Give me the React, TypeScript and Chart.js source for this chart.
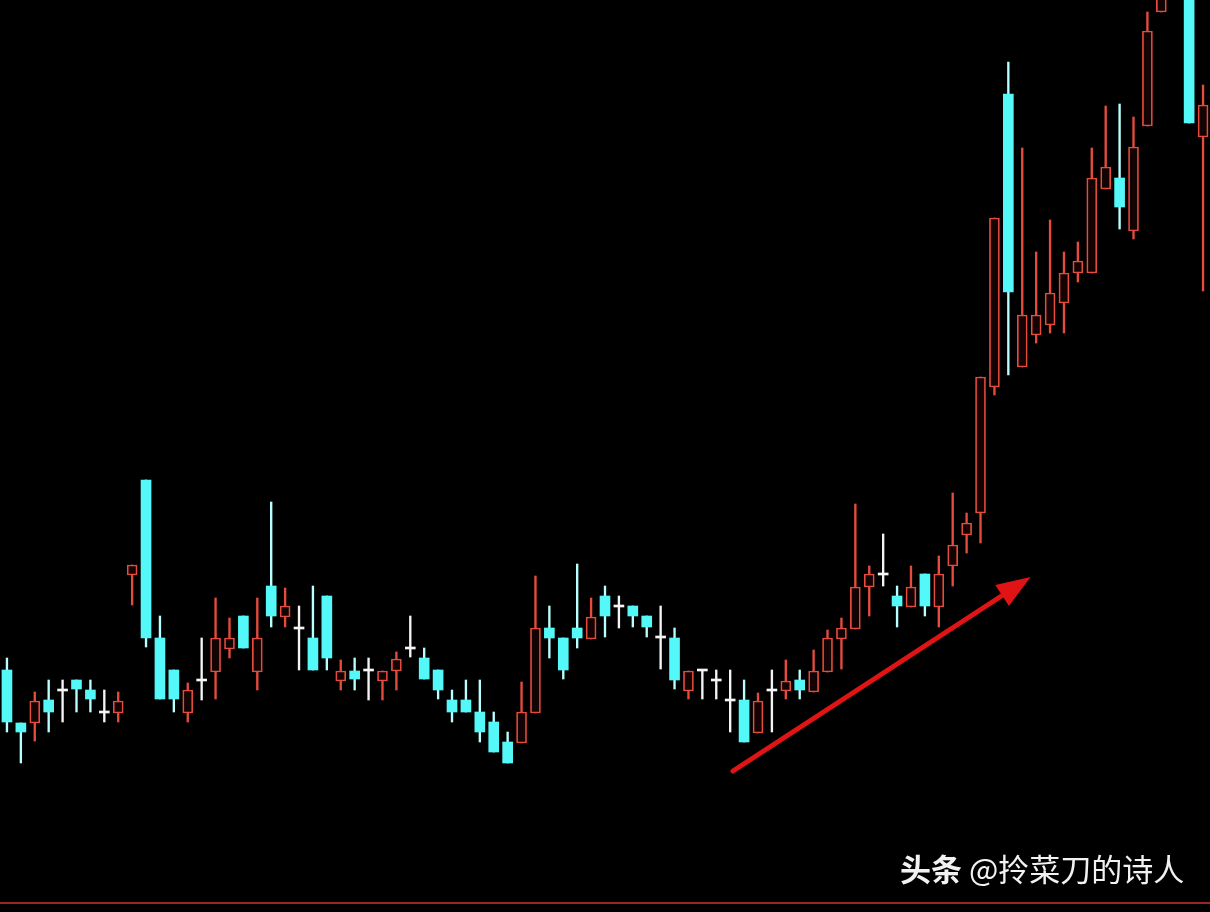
import React, { useEffect, useRef } from "react";
import { Chart, registerables } from "chart.js";

Chart.register(...registerables);

// Daily candles (price units)
const openPrices = [
  242, 189, 189, 212, 221, 232, 222, 199, 199, 337,
  432, 274, 242, 199, 231, 240, 263, 296, 240, 326,
  295, 283, 274, 316, 231, 241, 241, 231, 241, 263,
  254, 242, 212, 212, 200, 190, 170, 169, 199, 284,
  274, 284, 273, 316, 305, 306, 296, 274, 274, 221,
  241, 231, 211, 212, 179, 221, 221, 232, 220, 240,
  273, 283, 325, 337, 316, 305, 338, 305, 346, 377,
  399, 525, 818, 545, 577, 587, 609, 639, 639, 723,
  734, 681, 786, 900, 940, 975, 775,
];
const closePrices = [
  190, 180, 211, 200, 221, 223, 213, 199, 211, 347,
  274, 213, 213, 222, 231, 274, 274, 264, 274, 296,
  306, 283, 242, 254, 241, 233, 241, 241, 253, 263,
  233, 222, 200, 200, 180, 160, 149, 200, 284, 274,
  242, 274, 295, 296, 305, 296, 285, 274, 232, 241,
  241, 231, 211, 170, 211, 221, 231, 222, 241, 274,
  284, 325, 338, 337, 306, 325, 306, 338, 367, 389,
  535, 694, 620, 597, 597, 619, 639, 651, 734, 745,
  705, 765, 881, 932, 985, 789, 807,
];
const highPrices = [
  254, 189, 220, 232, 232, 232, 232, 222, 220, 347,
  432, 296, 242, 229, 274, 314, 294, 296, 314, 410,
  324, 306, 326, 316, 252, 254, 254, 241, 260, 296,
  264, 242, 222, 232, 232, 200, 180, 230, 336, 306,
  274, 348, 314, 326, 316, 306, 296, 306, 284, 241,
  241, 242, 242, 232, 219, 242, 252, 242, 262, 282,
  294, 408, 346, 378, 326, 346, 338, 356, 419, 399,
  535, 694, 850, 764, 660, 692, 660, 670, 764, 806,
  808, 795, 900, 950, 1000, 990, 827,
];
const lowPrices = [
  180, 149, 171, 180, 190, 200, 200, 190, 190, 307,
  265, 213, 200, 190, 212, 213, 254, 264, 222, 285,
  285, 242, 242, 242, 222, 222, 212, 212, 222, 255,
  233, 213, 190, 200, 170, 160, 149, 169, 199, 254,
  233, 264, 273, 275, 284, 285, 275, 243, 223, 213,
  213, 213, 180, 170, 179, 180, 213, 213, 220, 240,
  243, 283, 296, 326, 285, 305, 296, 285, 326, 359,
  369, 517, 537, 545, 569, 579, 579, 630, 639, 723,
  683, 673, 786, 900, 930, 789, 621,
];
const dayLabels = openPrices.map((_, i) => "D" + (i + 1));

const priceMin = 0;
const priceMax = 912;
const frameLinePrice = 9;

// trend arrow annotation, in (candle index, price)
const arrowFrom = { i: 52.2, p: 141 };
const arrowTo = { i: 73.6, p: 335 };

const RED = "rgb(230,76,62)";
const CYAN = "#55f8f8";
const CYAN_WICK = "#b8ffff";
const WHITE = "#f4f4f4";
const UP_FILL = "#140303";

const kind = (i: number) =>
  closePrices[i] > openPrices[i] ? "up" : closePrices[i] < openPrices[i] ? "down" : "flat";

const overlayPlugin = {
  id: "overlay",
  afterDatasetsDraw(chart: any) {
    const ctx = chart.ctx;
    const xs = chart.scales.x;
    const ys = chart.scales.y;
    const x0 = xs.getPixelForValue(0);
    const step = xs.getPixelForValue(1) - x0;
    const px = (i: number) => x0 + i * step;

    // frame line at bottom
    ctx.save();
    ctx.strokeStyle = "#9a2626";
    ctx.lineWidth = 2;
    const fy = ys.getPixelForValue(frameLinePrice);
    ctx.beginPath();
    ctx.moveTo(chart.chartArea.left, fy);
    ctx.lineTo(chart.chartArea.right, fy);
    ctx.stroke();

    // arrow
    const ax = px(arrowFrom.i), ay = ys.getPixelForValue(arrowFrom.p);
    const bx = px(arrowTo.i), by = ys.getPixelForValue(arrowTo.p);
    const ang = Math.atan2(by - ay, bx - ax);
    const headLen = 34, headHalf = 12.5;
    const baseX = bx - headLen * Math.cos(ang);
    const baseY = by - headLen * Math.sin(ang);
    ctx.strokeStyle = "#e01414";
    ctx.fillStyle = "#e01414";
    ctx.lineWidth = 5;
    ctx.lineCap = "round";
    ctx.beginPath();
    ctx.moveTo(ax, ay);
    ctx.lineTo(baseX + 2 * Math.cos(ang), baseY + 2 * Math.sin(ang));
    ctx.stroke();
    ctx.beginPath();
    ctx.moveTo(bx, by);
    ctx.lineTo(baseX + headHalf * Math.sin(ang), baseY - headHalf * Math.cos(ang));
    ctx.lineTo(baseX - headHalf * Math.sin(ang), baseY + headHalf * Math.cos(ang));
    ctx.closePath();
    ctx.fill();
    ctx.restore();
  },
};

export default function App() {
  const ref = useRef<HTMLCanvasElement | null>(null);

  useEffect(() => {
    document.body.style.margin = "0";
    document.body.style.background = "#000";
    const canvas = ref.current;
    if (!canvas) return;
    const n = openPrices.length;
    const idx = Array.from({ length: n }, (_, i) => i);
    const chart = new Chart(canvas, {
      type: "bar",
      data: {
        labels: dayLabels,
        datasets: [
          {
            label: "body",
            data: idx.map((i) => [openPrices[i], closePrices[i]]) as any,
            grouped: false,
            barThickness: 10,
            minBarLength: 2,
            borderSkipped: false,
            backgroundColor: idx.map((i) =>
              kind(i) === "up" ? UP_FILL : kind(i) === "down" ? CYAN : WHITE
            ),
            borderColor: idx.map((i) =>
              kind(i) === "up" ? RED : kind(i) === "down" ? CYAN : WHITE
            ),
            borderWidth: idx.map((i) => (kind(i) === "up" ? 1.7 : 0)),
            order: 0,
          } as any,
          {
            label: "wick",
            data: idx.map((i) => [lowPrices[i], highPrices[i]]) as any,
            grouped: false,
            barThickness: 1.7,
            borderSkipped: false,
            borderWidth: 0,
            backgroundColor: idx.map((i) =>
              kind(i) === "up" ? RED : kind(i) === "down" ? CYAN_WICK : WHITE
            ),
            order: 1,
          } as any,
        ],
      },
      options: {
        animation: false,
        responsive: false,
        maintainAspectRatio: false,
        layout: { padding: 0 },
        plugins: { legend: { display: false }, tooltip: { enabled: false } },
        scales: {
          x: { display: false, offset: true, grid: { display: false } },
          y: { display: false, min: priceMin, max: priceMax, grid: { display: false } },
        },
      },
      plugins: [overlayPlugin],
    });
    return () => chart.destroy();
  }, []);

  return (
    <div style={{ position: "fixed", left: 0, top: 0, width: 1210, height: 912, background: "#000" }}>
      <canvas ref={ref} width={1210} height={912} style={{ display: "block" }} />
      <div
        style={{
          position: "absolute",
          left: 900,
          top: 851,
          fontFamily: '"Noto Sans CJK SC", "Noto Sans", sans-serif',
          fontSize: 31,
          lineHeight: "33px",
          color: "#f2f2f2",
          whiteSpace: "nowrap",
        }}
      >
        <span style={{ fontWeight: 700 }}>头条</span>
        <span style={{ fontWeight: 400 }}> @拎菜刀的诗人</span>
      </div>
    </div>
  );
}
